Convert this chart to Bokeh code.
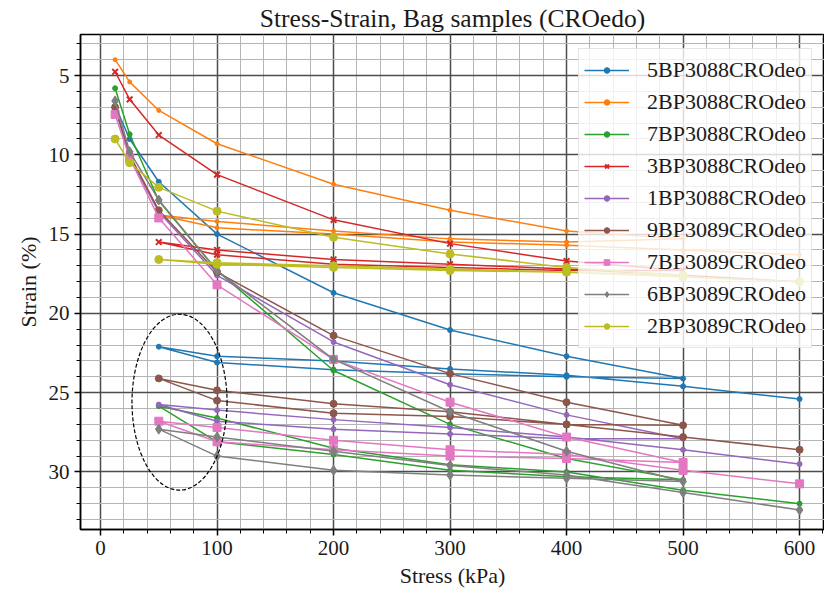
from bokeh.plotting import figure
from bokeh.models import Range1d, FixedTicker, Legend, LegendItem
from bokeh.embed import file_html
from bokeh.resources import INLINE

# ---------------- data ----------------
stress_load = [12.5, 25, 50, 100, 200, 300, 400, 500]
stress_unload = [400, 300, 200, 100, 50]
stress_reload = [100, 200, 300, 400, 500, 600]

names = ["5BP3088CROdeo", "2BP3088CROdeo", "7BP3088CROdeo", "3BP3088CROdeo",
         "1BP3088CROdeo", "9BP3089CROdeo", "7BP3089CROdeo", "6BP3089CROdeo",
         "2BP3089CROdeo"]

strain_5BP3088 = [6.9, 9.0, 11.7, 15.0, 18.7, 21.05, 22.7, 24.1,
                  24.0, 23.8, 23.55, 23.1, 22.1,
                  22.7, 23.0, 23.5, 23.9, 24.6, 25.4]
strain_2BP3088 = [4.0, 5.4, 7.2, 9.3, 11.85, 13.5, 14.8, 15.3,
                  15.5, 15.3, 14.8, 14.2, 13.8,
                  14.6, 15.0, 15.5, 15.7, 16.0, 16.3]
strain_7BP3088 = [5.8, 8.7, 12.9, 17.3, 23.6, 27.0, 29.15, 30.5,
                  30.3, 29.9, 28.9, 28.1, 25.85,
                  26.6, 28.5, 29.55, 30.0, 31.15, 32.0]
strain_3BP3088 = [4.76, 6.5, 8.75, 11.25, 14.1, 15.6, 16.7, 17.3,
                  17.3, 17.1, 16.9, 16.3, 15.5,
                  16.0, 16.6, 16.9, 17.2, 17.6, 18.0]
strain_1BP3088 = [7.0, 10.2, 13.6, 17.6, 21.8, 24.5, 26.4, 27.9,
                  27.9, 27.6, 27.3, 26.8, 25.75,
                  26.1, 26.7, 27.2, 27.8, 28.6, 29.5]
strain_9BP3089 = [7.0, 10.0, 13.5, 17.4, 21.4, 23.8, 25.6, 27.06,
                  27.0, 26.5, 26.3, 25.5, 24.1,
                  24.85, 25.7, 26.2, 27.0, 27.8, 28.6]
strain_7BP3089 = [7.45, 10.2, 13.98, 18.2, 22.9, 25.6, 27.8, 29.4,
                  29.15, 29.0, 28.6, 28.1, 26.8,
                  27.2, 28.0, 28.6, 28.9, 29.9, 30.75]
strain_6BP3089 = [6.6, 9.8, 12.85, 17.3, 22.9, 26.2, 28.7, 30.6,
                  30.4, 30.2, 29.9, 29.0, 27.3,
                  27.8, 28.7, 29.6, 30.2, 31.3, 32.4]
strain_2BP3089 = [9.0, 10.5, 12.05, 13.55, 15.2, 16.25, 17.1, 17.6,
                  17.4, 17.3, 17.1, 16.9, 16.6,
                  16.8, 17.0, 17.2, 17.4, 17.7, 18.0]

strains = [strain_5BP3088, strain_2BP3088, strain_7BP3088, strain_3BP3088,
           strain_1BP3088, strain_9BP3089, strain_7BP3089, strain_6BP3089,
           strain_2BP3089]

x_ticks = [0, 100, 200, 300, 400, 500, 600]
y_ticks = [5, 10, 15, 20, 25, 30]

# highlighted region (ellipse)
ellipse_center = (67.8, 25.6)
ellipse_size = (81.6, 11.1)

# ---------------- styling ----------------
colors = ["#1f77b4", "#ff7f0e", "#2ca02c", "#d62728", "#9467bd",
          "#8c564b", "#e377c2", "#7f7f7f", "#bcbd22"]
markers = ["circle", "circle", "circle", "x", "circle",
           "circle", "square", "diamond", "circle"]
msizes = [5, 4, 5, 8, 5, 7, 8, 10, 8]
FONT = "Liberation Serif"

stress_all = stress_load + stress_unload + stress_reload

p = figure(width=824, height=596, output_backend="svg", toolbar_location=None,
           x_range=Range1d(-17.2, 621.4), y_range=Range1d(33.63, 2.41),
           title="Stress-Strain, Bag samples (CROedo)",
           min_border_left=80, min_border_right=0, min_border_bottom=67,
           min_border_top=0)

p.title.text_font = FONT
p.title.text_font_size = "25.5px"
p.title.text_font_style = "normal"
p.title.align = "center"
p.title.text_color = "#1a1a1a"
p.title.standoff = 3

p.outline_line_color = "black"
p.outline_line_width = 1.5
p.background_fill_color = "white"

for ax in (p.xaxis[0], p.yaxis[0]):
    ax.axis_label_text_font = FONT
    ax.axis_label_text_font_size = "22px"
    ax.axis_label_text_font_style = "normal"
    ax.axis_label_text_color = "#1a1a1a"
    ax.major_label_text_font = FONT
    ax.major_label_text_font_size = "21px"
    ax.major_label_text_color = "#1a1a1a"
    ax.axis_line_color = "black"
    ax.axis_line_width = 1.5
    ax.major_tick_in = 0
    ax.major_tick_out = 6
    ax.minor_tick_in = 0
    ax.minor_tick_out = 4
    ax.major_tick_line_width = 1.5
    ax.minor_tick_line_width = 1

p.xaxis.axis_label = "Stress (kPa)"
p.yaxis.axis_label = "Strain (%)"
p.xaxis.ticker = FixedTicker(ticks=x_ticks, minor_ticks=list(range(-20, 640, 20)))
p.yaxis.ticker = FixedTicker(ticks=y_ticks, minor_ticks=list(range(2, 35)))

p.xgrid.grid_line_color = "#4d4d4d"
p.xgrid.grid_line_width = 1.5
p.ygrid.grid_line_color = "#4d4d4d"
p.ygrid.grid_line_width = 1.5
p.xgrid.minor_grid_line_color = "#b5b5b5"
p.ygrid.minor_grid_line_color = "#b5b5b5"
p.xgrid.minor_grid_line_width = 1
p.ygrid.minor_grid_line_width = 1

items = []
for name, ys, c, m, s in zip(names, strains, colors, markers, msizes):
    r1 = p.line(stress_all, ys, line_color=c, line_width=1.5)
    if m == "x":
        r2 = p.scatter(stress_all, ys, marker="x", size=s, line_color=c, line_width=2)
    else:
        r2 = p.scatter(stress_all, ys, marker=m, size=s, fill_color=c, line_color=c)
    items.append(LegendItem(label=name, renderers=[r1, r2]))

p.ellipse(x=[ellipse_center[0]], y=[ellipse_center[1]],
          width=[ellipse_size[0]], height=[ellipse_size[1]],
          fill_color=None, line_color="black", line_width=1.2, line_dash="4 2")

legend = Legend(items=items, location=(498, 181))
legend.label_text_font = FONT
legend.label_text_font_size = "22px"
legend.label_text_color = "#1a1a1a"
legend.glyph_width = 45
legend.glyph_height = 14
legend.label_height = 32
legend.spacing = 0
legend.label_standoff = 18
legend.padding = 5
legend.border_line_color = "#cccccc"
legend.border_line_width = 1
legend.background_fill_color = "white"
legend.background_fill_alpha = 0.8
p.add_layout(legend, "center")

open("out.html", "w").write(file_html(p, INLINE))
